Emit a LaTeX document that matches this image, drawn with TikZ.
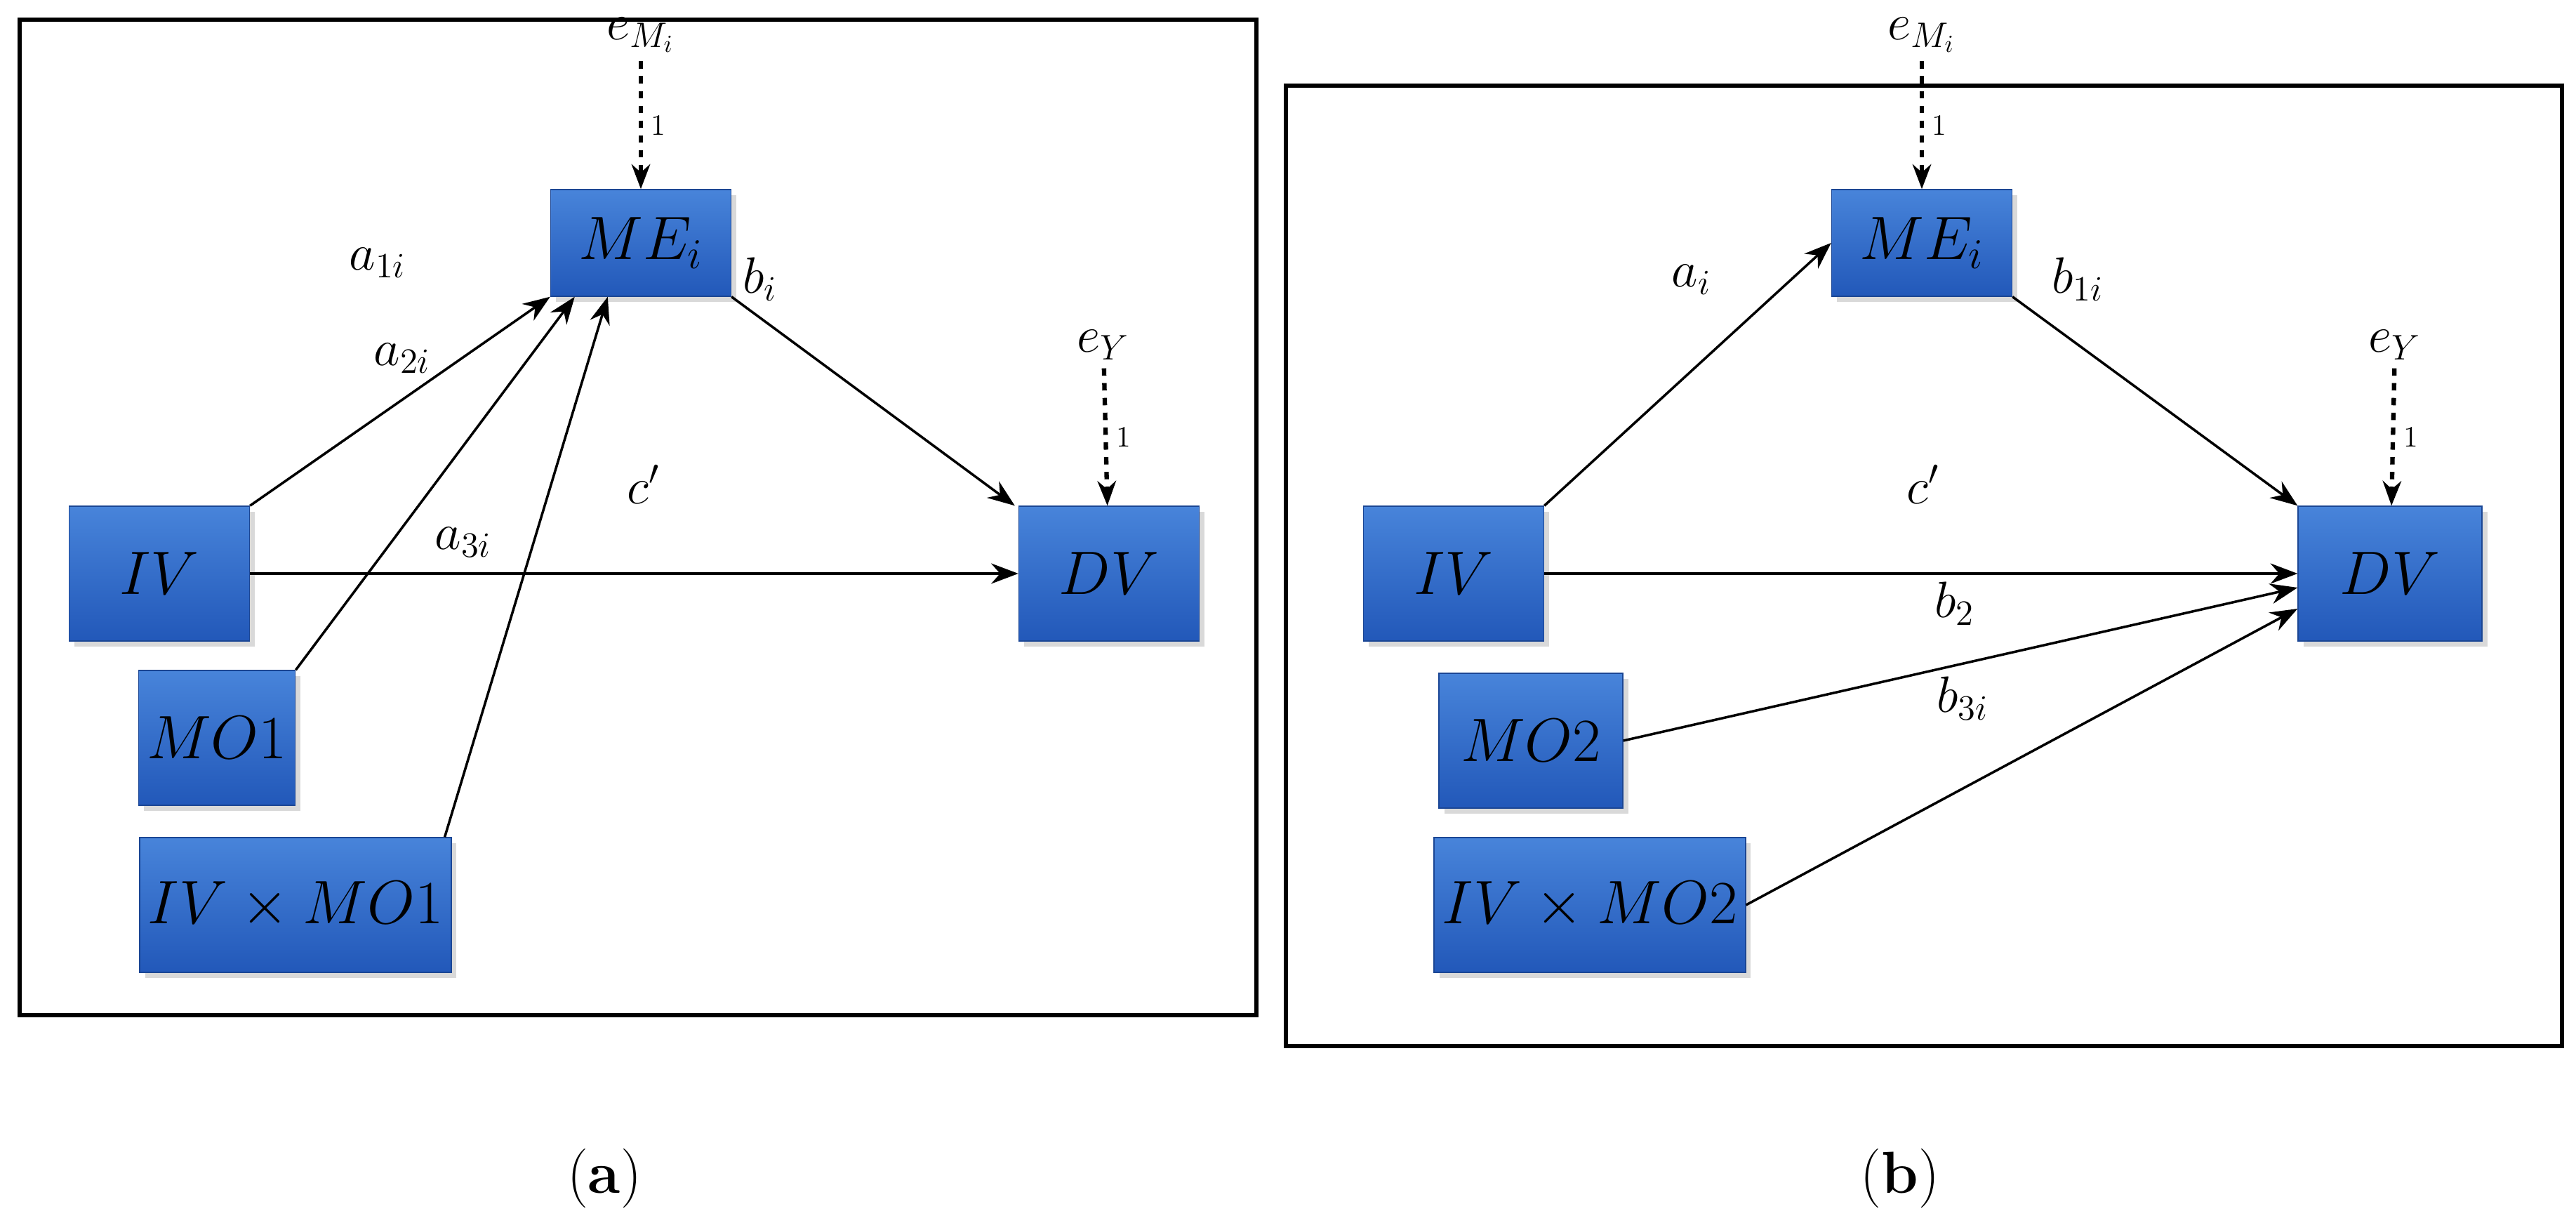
\documentclass[tikz,border=0pt]{standalone}
\usepackage{amsmath}
\usepackage{amssymb}
\usetikzlibrary{arrows.meta,shadows}

\definecolor{boxtop}{RGB}{72,132,218}
\definecolor{boxbot}{RGB}{34,88,185}
\tikzset{
  box/.style={draw=boxbot!80!black, top color=boxtop, bottom color=boxbot,
    minimum width=2.57cm, minimum height=1.92cm, font=\fontsize{24}{28}\selectfont, text=black,
    drop shadow={opacity=0.3}},
  path/.style={-{Stealth[length=11pt]}, line width=1pt},
  err/.style={-{Stealth[length=10pt]}, dashed, line width=1.8pt},
  lab/.style={font=\fontsize{20}{24}\selectfont}
}

\begin{document}
\begin{tikzpicture}
  \useasboundingbox (0,0) rectangle (36.7,-17.42);
  % panel (a)
  \begin{scope}
    \draw[line width=1.6pt] (0.28,-0.28) rectangle (17.90,-14.46);
    \node[box, minimum height=1.52cm] (ME) at (9.13,-3.46) {$ME_i$};
    \node[box] (IV) at (2.27,-8.17) {$IV$};
    \node[box, minimum width=1.85cm] (MO) at (3.09,-10.51) {$MO1$};
    \node[box, minimum width=3.16cm] (IVMO) at (4.21,-12.89) {$IV\times MO1$};
    \node[box] (DV) at (15.80,-8.17) {$DV$};
    \node[lab] (eM) at (9.13,-0.50) {$e_{M_i}$};
    \node[lab] (eY) at (15.72,-4.91) {$e_Y$};
    \draw[err] (eM) -- node[right, font=\large] {1} (ME);
    \draw[err] (eY) -- node[right, font=\large] {1} (DV);
    \draw[path] (IV.north east) -- (ME.south west);
    \draw[path] (MO.north east) -- ([xshift=0.35cm]ME.south west);
    \draw[path] ([xshift=-0.1cm]IVMO.north east) -- ([xshift=0.82cm]ME.south west);
    \draw[path] (ME.south east) -- ([xshift=-0.05cm]DV.north west);
    \draw[path] (IV) -- (DV);
    \node[lab] (a1) at (5.38,-3.74) {$a_{1i}$};
    \node[lab] (a2) at (5.73,-5.10) {$a_{2i}$};
    \node[lab] (a3) at (6.60,-7.72) {$a_{3i}$};
    \node[lab] (b) at (10.83,-3.98) {$b_i$};
    \node[lab] (c) at (9.17,-6.90) {$c'$};
    \node[font=\fontsize{24}{28}\selectfont] (capa) at (8.61,-16.78) {(\textbf{a})};
  \end{scope}
  % panel (b)
  \begin{scope}
    \draw[line width=1.6pt] (18.32,-1.22) rectangle (36.50,-14.90);
    \node[box, minimum height=1.52cm] (ME) at (27.38,-3.46) {$ME_i$};
    \node[box] (IV) at (20.71,-8.17) {$IV$};
    \node[box, minimum width=2.62cm] (MO) at (21.81,-10.55) {$MO2$};
    \node[box, minimum width=3.2cm] (IVMO) at (22.65,-12.89) {$IV\times MO2$};
    \node[box, minimum width=2.62cm] (DV) at (34.05,-8.17) {$DV$};
    \node[lab] (eM) at (27.38,-0.50) {$e_{M_i}$};
    \node[lab] (eY) at (34.12,-4.91) {$e_Y$};
    \draw[err] (eM) -- node[right, font=\large] {1} (ME);
    \draw[err] (eY) -- node[right, font=\large] {1} (DV);
    \draw[path] (IV.north east) -- (ME.west);
    \draw[path] (ME.south east) -- (DV.north west);
    \draw[path] (IV) -- (DV);
    \draw[path] (MO.east) -- ([yshift=-0.2cm]DV.west);
    \draw[path] (IVMO.east) -- ([yshift=-0.5cm]DV.west);
    \node[lab] (a) at (24.10,-3.98) {$a_i$};
    \node[lab] (b1) at (29.60,-3.98) {$b_{1i}$};
    \node[lab] (c) at (27.40,-6.90) {$c'$};
    \node[lab] (b2) at (27.85,-8.60) {$b_2$};
    \node[lab] (b3) at (27.96,-9.95) {$b_{3i}$};
    \node[font=\fontsize{24}{28}\selectfont] (capb) at (27.07,-16.78) {(\textbf{b})};
  \end{scope}
\end{tikzpicture}
\end{document}
